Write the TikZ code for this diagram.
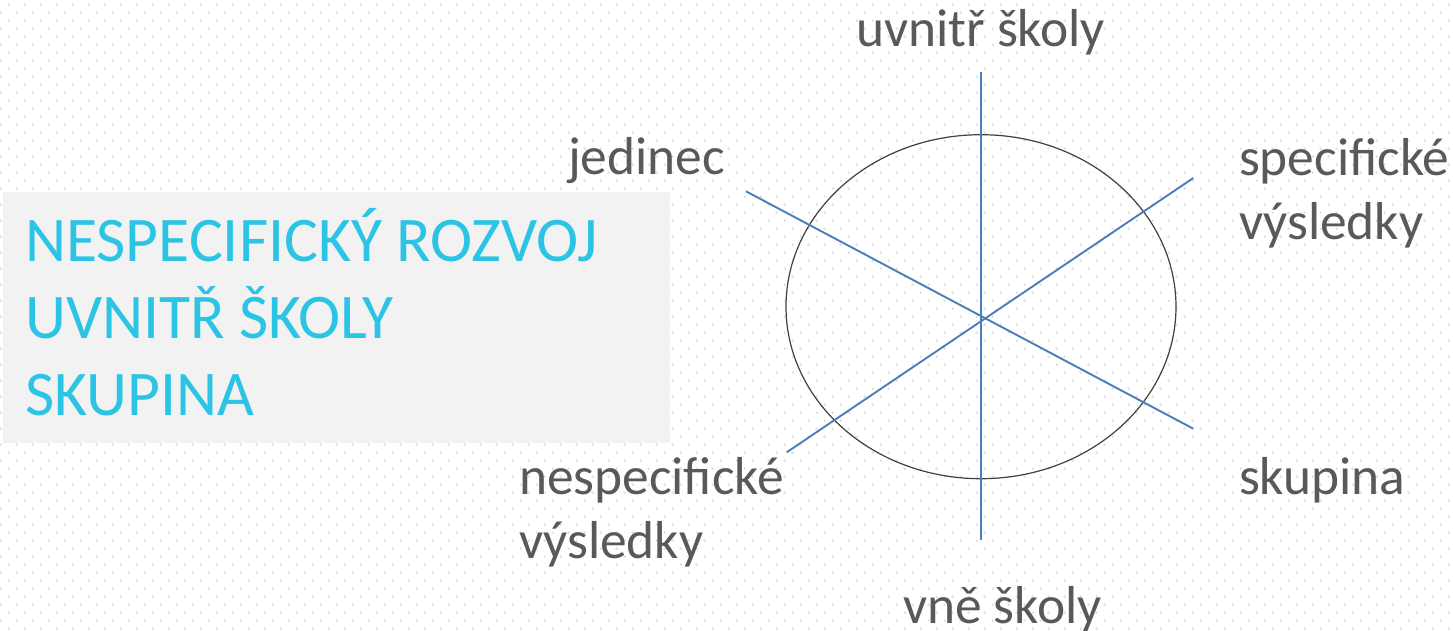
\documentclass[tikz,border=0pt]{standalone}
\usepackage{fontspec}
\setmainfont{Carlito}
\usetikzlibrary{shapes.geometric}
\definecolor{dotc}{HTML}{D9D9D9}
\definecolor{boxc}{HTML}{F2F2F2}
\definecolor{cyanT}{RGB}{44,196,228}
\definecolor{grayT}{HTML}{595959}
\definecolor{axisc}{HTML}{4A7EBB}
\definecolor{ringc}{HTML}{404040}
\tikzset{
  lbl/.style={anchor=base west, inner sep=0pt, outer sep=0pt, text=grayT, font=\fontsize{53.4}{64}\selectfont},
  axis/.style={draw=axisc, line width=1.9pt},
  ring/.style={draw=ringc, line width=1.2pt, ellipse, minimum width=390pt, minimum height=344pt, inner sep=0pt},
}
\begin{document}
\begin{tikzpicture}[x=1pt,y=-1pt]
\useasboundingbox (0,0) rectangle (1453,630);
\fill[white] (0,0) rectangle (1453,630);
% dotted background
\fill[dotc] \foreach \r in {0,...,78} {
  \foreach \k in {0,...,90} {
    ({mod(\r,2)==0 ? 7.7+16*\k : -0.3+16*\k}, {3.7+8*\r}) rectangle ++(2,2)
  }
};
% grey text box
\node[fill=boxc, anchor=north west, minimum width=667pt, minimum height=251pt, inner sep=0pt] (box) at (3,192) {};
\node[anchor=base west, inner sep=0pt, text=cyanT, font=\fontsize{63.6}{77}\selectfont] (title) at (25,261)
  {\vtop{\hbox{NESPECIFICKÝ ROZVOJ}\hbox{UVNITŘ ŠKOLY}\hbox{SKUPINA}}};
% ellipse
\node[ring] (ring) at (981,306.7) {};
% axes
\coordinate (vTop) at (981.3,71.7);
\coordinate (vBot) at (981.3,540);
\coordinate (aTL) at (746,191.3);
\coordinate (aBR) at (1193.3,428.7);
\coordinate (bBL) at (786.7,452.3);
\coordinate (bTR) at (1193.3,178);
\draw[axis] (vTop) -- (vBot);
\draw[axis] (aTL) -- (aBR);
\draw[axis] (bBL) -- (bTR);
% labels
\node[lbl] (uvnitr) at (856,46) {uvnitř školy};
\node[lbl] (jedinec) at (568,174.5) {jedinec};
\node[lbl] (spec) at (1239,175) {\vtop{\hbox{specifické}\hbox{výsledky}}};
\node[lbl] (nespec) at (519,494) {\vtop{\hbox{nespecifické}\hbox{výsledky}}};
\node[lbl] (skupina) at (1239,494.3) {skupina};
\node[lbl] (vne) at (903,623) {vně školy};
\end{tikzpicture}
\end{document}
